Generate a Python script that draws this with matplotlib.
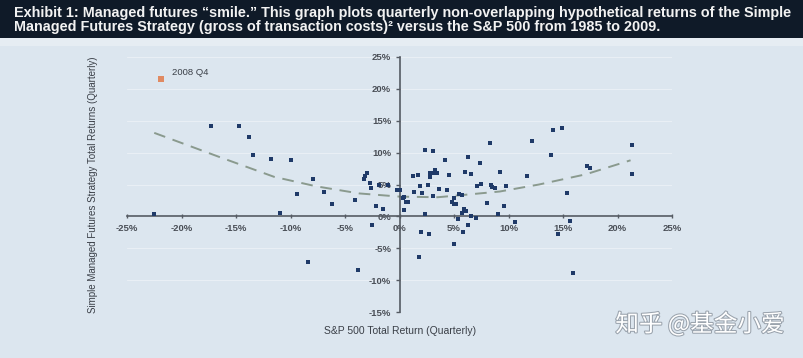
import numpy as np
import matplotlib.pyplot as plt
import matplotlib.patheffects as pe
from matplotlib.patches import Rectangle
from matplotlib.ticker import FuncFormatter

# quarterly returns, percent (S&P 500, managed futures strategy)
sp500 = [-22.5, -17.3, -14.7, -13.8, -13.4, -11.8, -10.0, -11.0, -9.4, -8.4,
         -7.9, -6.9, -6.2, -4.1, -3.8, -3.3, -3.2, -3.0, -2.7, -2.6,
         -1.9, -1.1, -2.2, -1.5, -2.5, -0.2, 0.0,
         0.4, 0.6, 0.8, 0.4, 1.2, 1.7, 1.9, 1.3, 2.1, 2.3,
         3.1, 2.3, 2.6, 2.8, 3.1, 3.4, 2.8, 3.3, 3.1, 3.6,
         4.2, 4.4, 4.5, 4.8, 5.0, 5.2, 5.0, 5.4, 5.5, 5.7,
         5.9, 6.1, 5.7, 6.0, 6.3, 6.3, 6.6, 6.6, 7.0, 7.1,
         7.4, 7.5, 8.0, 8.3, 8.4, 8.5, 8.8, 9.2, 9.0, 9.6,
         9.8, 10.6, 11.7, 12.2, 13.9, 14.1, 14.9, 15.4, 15.6, 17.2,
         17.5, 21.3, 21.3, 2.0, 2.7, 1.8, 5.0, 5.8, 14.5, 15.9, 0.3]
mf = [0.4, 14.2, 14.2, 12.5, 9.7, 9.0, 8.8, 0.6, 3.5, -7.1,
      5.8, 3.8, 2.0, 2.5, -8.4, 5.9, 6.4, 6.8, 5.3, 4.4,
      4.9, 5.0, 1.7, 1.1, -1.3, 4.2, 4.2,
      3.0, 2.2, 2.2, 1.0, 6.3, 6.5, 4.8, 3.8, 3.6, 10.4,
      10.2, 0.3, 4.9, 6.8, 6.8, 6.8, 6.2, 7.2, 3.2, 4.3,
      8.9, 4.2, 6.5, 2.2, 2.0, 1.9, 2.9, -0.4, 3.5, 3.4,
      1.2, 0.8, 0.5, 7.0, 9.3, -1.4, 6.7, 0.1, -0.3, 4.8,
      8.3, 5.1, 2.1, 11.5, 4.9, 4.6, 4.4, 7.0, 0.3, 1.7,
      4.8, -0.9, 6.3, 11.9, 9.7, 13.5, 13.9, 3.7, -0.7, 7.9,
      7.6, 11.2, 6.7, -2.5, -2.8, -6.4, -4.3, -2.5, -2.8, -8.9, 2.9]

# 2008 Q4 highlighted point
q4_2008 = (-21.9, 21.6)

# fitted "smile" curve
curve_x = [-22.5, -16.5, -11.5, -7.6, -3.7, 0.0, 3.5, 6.1, 9.2, 12.8, 17.1, 21.2]
curve_y = [13.1, 9.3, 6.2, 4.7, 3.6, 3.1, 3.0, 3.4, 3.9, 5.0, 6.6, 8.8]

xticks = [-25, -20, -15, -10, -5, 0, 5, 10, 15, 20, 25]
yticks = [-15, -10, -5, 0, 5, 10, 15, 20, 25]

title = ("Exhibit 1: Managed futures \u201csmile.\u201d This graph plots quarterly "
         "non-overlapping hypothetical returns of the Simple\n"
         "Managed Futures Strategy (gross of transaction costs)\u00b2 versus the "
         "S&P 500 from 1985 to 2009.")

bg = "#dce6ef"
navy = "#1f3a68"

fig = plt.figure(figsize=(8.04, 3.58), dpi=100, facecolor=bg)

# title banner
fig.patches.append(Rectangle((0, 1 - 38 / 358), 1, 38 / 358, transform=fig.transFigure,
                             facecolor="#0f1a28", edgecolor="none", zorder=0))
fig.patches.append(Rectangle((0, 1 - 46 / 358), 1, 8 / 358, transform=fig.transFigure,
                             facecolor="#e6edf3", edgecolor="none", zorder=0))
fig.text(14 / 804, 1 - 20 / 358, title, color="#f2f2f2", fontsize=10.4,
         fontweight="bold", family="Liberation Sans", va="center", ha="left",
         linespacing=1.08)

ax = fig.add_axes([127 / 804, 1 - 312 / 358, 545 / 804, 255 / 358])
ax.set_facecolor(bg)
ax.set_xlim(-25, 25)
ax.set_ylim(-15, 25)

for y in yticks:
    ax.axhline(y, color="white", lw=0.6, alpha=0.45, zorder=0)

ax.spines["left"].set_position(("data", 0))
ax.spines["bottom"].set_position(("data", 0))
ax.spines["top"].set_visible(False)
ax.spines["right"].set_visible(False)
for s in ("left", "bottom"):
    ax.spines[s].set_color("#555b63")
    ax.spines[s].set_linewidth(1.2)

pct = FuncFormatter(lambda v, p: f"{v:.0f}%")
ax.set_xticks(xticks)
ax.set_yticks(yticks)
ax.xaxis.set_major_formatter(pct)
ax.yaxis.set_major_formatter(pct)
ax.tick_params(axis="both", labelsize=6.8, colors="#555b63", labelcolor="#4a4f57",
               length=3, width=1)
ax.tick_params(axis="x", direction="inout", pad=4)
ax.tick_params(axis="y", direction="out", pad=3)
for lab in ax.get_xticklabels() + ax.get_yticklabels():
    lab.set_family("Liberation Sans")
    lab.set_fontweight("bold")

ax.plot(curve_x, curve_y, ls=(0, (6, 4)), color="#8a9a8e", lw=1.4, zorder=2)
ax.scatter(sp500, mf, marker="s", s=7, color=navy, zorder=3, linewidths=0)
ax.scatter([q4_2008[0]], [q4_2008[1]], marker="s", s=14, color="#e08a62",
           zorder=3, linewidths=0)
ax.text(q4_2008[0] + 1.0, q4_2008[1] + 0.9, "2008 Q4", fontsize=6.8,
        color="#3a3f47", family="Liberation Sans", va="center")

fig.text(400 / 804, 1 - 331 / 358, "S&P 500 Total Return (Quarterly)", fontsize=7.5,
         color="#3a3f47", family="Liberation Sans", ha="center", va="center")
fig.text(93 / 804, 1 - 185 / 358,
         "Simple Managed Futures Strategy Total Returns (Quarterly)", fontsize=7,
         color="#3a3f47", family="Liberation Sans", rotation=90,
         ha="center", va="center")

# watermark
fig.text(700 / 804, 1 - 324 / 358, "知乎 @基金小爱", fontsize=17,
         color="white", family=["Noto Sans CJK SC", "DejaVu Sans"],
         ha="center", va="center",
         path_effects=[pe.withStroke(linewidth=1.5, foreground="#9aa3ad")])

fig.savefig("out.png", dpi=100, facecolor=bg)
